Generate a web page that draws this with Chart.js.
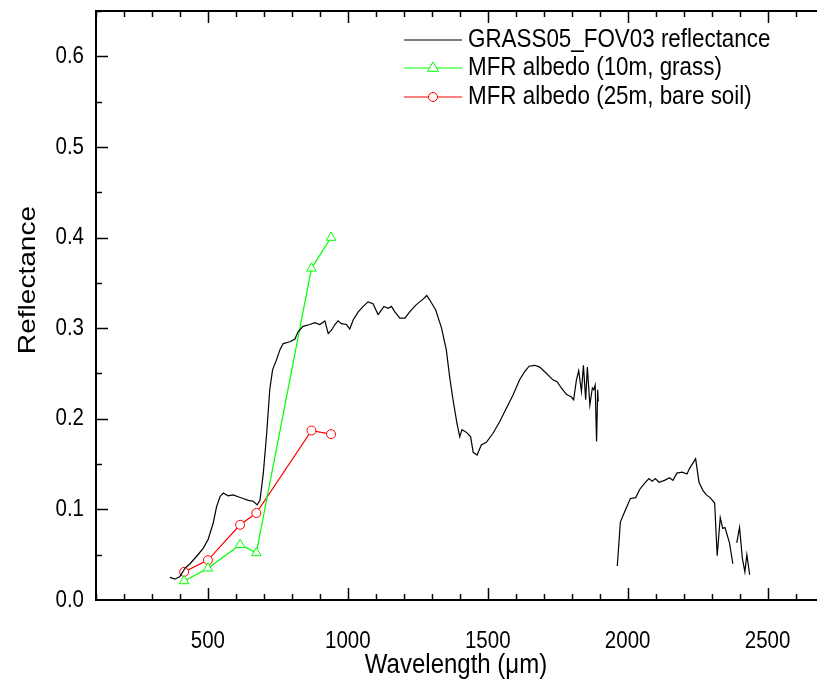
<!DOCTYPE html>
<html lang="en">
<head>
  <meta charset="UTF-8">
  <title>GRASS05 reflectance</title>
  <style>
    html, body { margin: 0; padding: 0; background: #fff; overflow: hidden; }
    #wrap { width: 830px; height: 685px; }
  </style>
  <script src="https://cdn.jsdelivr.net/npm/chart.js"></script>
</head>
<body>
  <div id="wrap"><canvas id="chart" width="830" height="685"></canvas></div>
  <script>
    // spectrum (null = gap in the measurement)
    const specWave = [364, 382, 400, 418, 436, 459, 483, 501, 519, 531, 543, 555, 572, 590, 608, 626, 644, 662, 676, 686,
      698, 710, 721, 731, 745, 757, 769, 793, 811, 822, 840, 864, 882, 900, 918, 930, 942, 954, 965, 977,
      995, 1007, 1019, 1037, 1055, 1072, 1090, 1108, 1120, 1129, 1144, 1156, 1168, 1186, 1204, 1221, 1245, 1269, 1282, 1293,
      1314, 1335, 1352, 1364, 1376, 1390, 1400, 1408, 1424, 1439, 1448, 1462, 1477, 1495, 1519, 1543, 1567, 1590, 1614, 1632,
      1648, 1668, 1686, 1710, 1733, 1748, 1763, 1781, 1799, 1807, 1817, 1825, 1835, 1842, 1850, 1856, 1865, 1874, 1879, 1884,
      1889, 1893, 1895, 1930,
      1963, 1974, 1989, 2010, 2029, 2043, 2061, 2076, 2088, 2099, 2112, 2132, 2150, 2162, 2176, 2195, 2212, 2221, 2243, 2255,
      2269, 2281, 2295, 2311, 2320, 2331, 2340, 2348, 2364, 2376, 2383,
      2390, 2400, 2410, 2419, 2426, 2436];
    const specRefl = [0.025, 0.023, 0.026, 0.035, 0.040, 0.048, 0.057, 0.067, 0.085, 0.103, 0.114, 0.118, 0.115, 0.116, 0.114, 0.112, 0.110, 0.109, 0.105, 0.110,
      0.140, 0.184, 0.232, 0.254, 0.265, 0.276, 0.283, 0.285, 0.288, 0.296, 0.302, 0.304, 0.306, 0.304, 0.308, 0.294, 0.298, 0.304, 0.308, 0.305,
      0.304, 0.299, 0.309, 0.318, 0.324, 0.329, 0.327, 0.315, 0.320, 0.324, 0.322, 0.324, 0.318, 0.311, 0.311, 0.318, 0.326, 0.332, 0.336, 0.331,
      0.320, 0.300, 0.276, 0.246, 0.221, 0.195, 0.180, 0.188, 0.185, 0.180, 0.163, 0.160, 0.171, 0.174, 0.184, 0.197, 0.212, 0.226, 0.243, 0.252,
      0.258, 0.259, 0.257, 0.250, 0.243, 0.241, 0.234, 0.227, 0.224, 0.221, 0.243, 0.253, 0.230, 0.259, 0.221, 0.257, 0.215, 0.234, 0.232, 0.237,
      0.175, 0.232, 0.219, null,
      0.0375, 0.086, 0.097, 0.112, 0.113, 0.122, 0.129, 0.134, 0.131, 0.134, 0.130, 0.132, 0.135, 0.132, 0.140, 0.141, 0.139, 0.145, 0.156, 0.130,
      0.121, 0.116, 0.113, 0.107, 0.049, 0.091, 0.079, 0.080, 0.063, 0.040, null,
      0.063, 0.080, 0.046, 0.031, 0.050, 0.028];

    const mfrWave = [415, 500, 615, 673, 870, 940];
    const grassAlbedo = [0.021, 0.035, 0.061, 0.052, 0.366, 0.400];
    const soilAlbedo = [0.031, 0.044, 0.083, 0.096, 0.187, 0.183];

    const seriesNames = ['GRASS05_FOV03 reflectance', 'MFR albedo (10m, grass)', 'MFR albedo (25m, bare soil)'];
    const xTicks = [500, 1000, 1500, 2000, 2500];
    const yTicks = [0, 0.1, 0.2, 0.3, 0.4, 0.5, 0.6];
    const xTitle = 'Wavelength (\u03bcm)';
    const yTitle = 'Reflectance';

    const FONT = '"Liberation Sans", Arial, sans-serif';
    const STRETCH = 1.17; // the original text is a bit taller than wide

    function pairs(xs, ys) { return xs.map((x, i) => ({ x: x, y: ys[i] })); }

    function tallText(ctx, text, x, y, size, align) {
      ctx.save();
      ctx.translate(x, y);
      ctx.scale(1, STRETCH);
      ctx.font = size + 'px ' + FONT;
      ctx.textAlign = align;
      ctx.textBaseline = 'middle';
      ctx.fillText(text, 0, 0);
      ctx.restore();
    }

    // inward ticks, top border, tick labels, titles and legend
    const framePlugin = {
      id: 'frame',
      afterDraw(chart) {
        const ctx = chart.ctx, a = chart.chartArea;
        const xs = chart.scales.x, ys = chart.scales.y;
        ctx.save();
        ctx.strokeStyle = '#000';
        ctx.lineWidth = 2;
        ctx.beginPath();
        ctx.moveTo(a.left - 1, a.top);
        ctx.lineTo(a.right, a.top);
        ctx.stroke();
        ctx.lineWidth = 1.5;
        for (let v = 100; v <= 2700; v += 100) {
          const px = Math.round(xs.getPixelForValue(v)) + 0.5;
          const len = v % 500 === 0 ? 12 : 6;
          ctx.beginPath();
          ctx.moveTo(px, a.bottom); ctx.lineTo(px, a.bottom - len);
          ctx.moveTo(px, a.top); ctx.lineTo(px, a.top + len);
          ctx.stroke();
        }
        for (let i = 1; i <= 13; i++) {
          const py = Math.round(ys.getPixelForValue(i * 0.05)) + 0.5;
          const len = i % 2 === 0 ? 12 : 6;
          ctx.beginPath();
          ctx.moveTo(a.left, py); ctx.lineTo(a.left + len, py);
          ctx.stroke();
        }

        ctx.fillStyle = '#000';
        xs.ticks.forEach(t => tallText(ctx, String(t.value), xs.getPixelForValue(t.value), a.bottom + 41, 20.5, 'center'));
        ys.ticks.forEach(t => tallText(ctx, t.value.toFixed(1), a.left - 12, ys.getPixelForValue(t.value), 20.5, 'right'));
        tallText(ctx, xTitle, 456, 665, 24, 'center');

        ctx.save();
        ctx.translate(28, 280);
        ctx.rotate(-Math.PI / 2);
        ctx.scale(STRETCH, 1);
        ctx.font = '24px ' + FONT;
        ctx.textAlign = 'center';
        ctx.textBaseline = 'middle';
        ctx.fillText(yTitle, 0, 0);
        ctx.restore();

        // legend
        const rows = [40, 68, 97];
        chart.data.datasets.forEach((d, i) => {
          const y = rows[i];
          ctx.strokeStyle = d.borderColor;
          ctx.lineWidth = 1.2;
          ctx.beginPath();
          ctx.moveTo(404, y); ctx.lineTo(462, y);
          ctx.stroke();
          if (d.pointRadius > 0) {
            const r = d.pointRadius;
            ctx.fillStyle = '#fff';
            ctx.lineWidth = 1;
            ctx.beginPath();
            if (d.pointStyle === 'circle') ctx.arc(433, y, r, 0, Math.PI * 2);
            else {
              ctx.moveTo(433, y - r * 1.1);
              ctx.lineTo(433 + r, y + r * 0.6);
              ctx.lineTo(433 - r, y + r * 0.6);
              ctx.closePath();
            }
            ctx.fill(); ctx.stroke();
          }
          ctx.fillStyle = '#000';
          tallText(ctx, d.label, 468, y, 22.4, 'left');
        });
        ctx.restore();
      }
    };

    new Chart(document.getElementById('chart'), {
      type: 'line',
      data: {
        datasets: [
          {
            label: seriesNames[0],
            data: pairs(specWave, specRefl),
            borderColor: '#000', borderWidth: 1.2,
            pointRadius: 0, spanGaps: false, tension: 0
          },
          {
            label: seriesNames[1],
            data: pairs(mfrWave, grassAlbedo),
            borderColor: '#00ff00', backgroundColor: '#fff', borderWidth: 1.2,
            pointStyle: 'triangle', pointRadius: 5.5, pointBorderWidth: 1, tension: 0
          },
          {
            label: seriesNames[2],
            data: pairs(mfrWave, soilAlbedo),
            borderColor: '#ff0000', backgroundColor: '#fff', borderWidth: 1.2,
            pointStyle: 'circle', pointRadius: 4.5, pointBorderWidth: 1, tension: 0
          }
        ]
      },
      options: {
        responsive: false,
        animation: false,
        layout: { padding: { top: 11, right: 6, left: 0, bottom: 0 } },
        plugins: { legend: { display: false }, tooltip: { enabled: false } },
        scales: {
          x: {
            type: 'linear', min: 100, max: 2700,
            afterBuildTicks: s => { s.ticks = xTicks.map(v => ({ value: v })); },
            afterFit: s => { s.height = 85; s.paddingLeft = 0; s.paddingRight = 0; },
            grid: { display: false, drawTicks: false },
            border: { display: true, color: '#000', width: 2 },
            ticks: { display: false }
          },
          y: {
            min: 0, max: 0.65,
            afterBuildTicks: s => { s.ticks = yTicks.map(v => ({ value: v })); },
            afterFit: s => { s.width = 96; s.paddingTop = 0; s.paddingBottom = 0; },
            grid: { display: false, drawTicks: false },
            border: { display: true, color: '#000', width: 2 },
            ticks: { display: false }
          }
        }
      },
      plugins: [framePlugin]
    });
  </script>
</body>
</html>
